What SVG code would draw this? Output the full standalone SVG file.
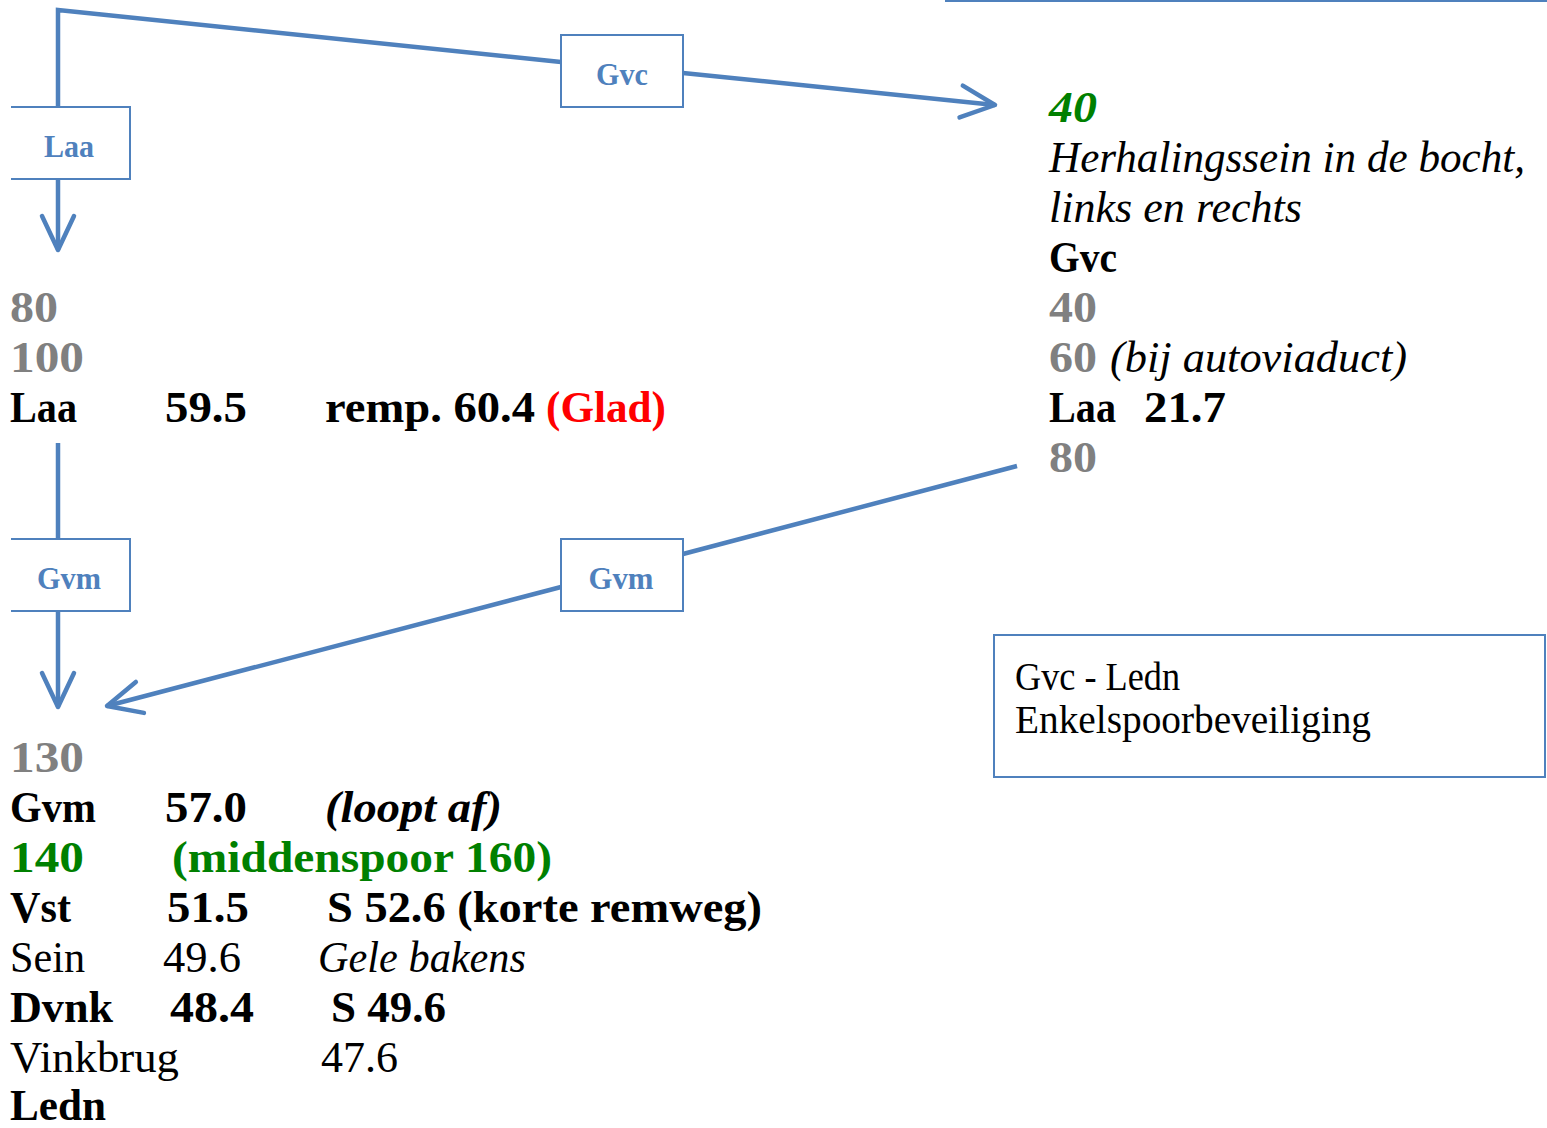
<svg xmlns="http://www.w3.org/2000/svg" width="1547" height="1128" viewBox="0 0 1547 1128">
<style>
text{font-family:"Liberation Serif","Times New Roman",serif;}
.t{font-size:44px;font-weight:bold;fill:#000;}
.r{font-size:44px;font-weight:normal;fill:#000;}
.i{font-style:italic;}
.g{fill:#808080;}
.gr{fill:#008000;}
.red{fill:#FF0000;}
.box{fill:#fff;stroke:#4F81BD;stroke-width:2;}
.bl{font-size:32px;font-weight:bold;fill:#4F81BD;text-anchor:middle;}
.c{fill:none;stroke:#4F81BD;stroke-width:4.5;}
</style>
<defs>
<marker id="ah" markerUnits="userSpaceOnUse" markerWidth="80" markerHeight="80" refX="0" refY="0" orient="auto" overflow="visible" viewBox="-40 -40 80 80">
<path d="M-34,-16 L0,0 L-34,16" fill="none" stroke="#4F81BD" stroke-width="4.5" stroke-linecap="round" stroke-linejoin="round"/>
</marker>
</defs>
<rect width="1547" height="1128" fill="#fff"/>
<line x1="945" y1="1" x2="1547" y2="1" stroke="#4F81BD" stroke-width="2"/>
<g id="connectors">
<polyline class="c" points="58,107 58,10 561,62"/>
<line class="c" x1="683" y1="73" x2="995" y2="105" marker-end="url(#ah)"/>
<line class="c" x1="58" y1="179" x2="58" y2="250" marker-end="url(#ah)"/>
<line class="c" x1="58" y1="443" x2="58" y2="539" stroke-width="3"/>
<line class="c" x1="58" y1="611" x2="58" y2="707" stroke-width="3" marker-end="url(#ah)"/>
<line class="c" x1="1017" y1="466" x2="683" y2="554"/>
<line class="c" x1="561" y1="587" x2="107" y2="706" marker-end="url(#ah)"/>
</g>
<g id="node-laa">
<path class="box" d="M11,107 H130 V179 H11"/>
<text class="bl" x="69" y="157" textLength="50" lengthAdjust="spacingAndGlyphs">Laa</text>
</g>
<g id="node-gvc">
<rect class="box" x="561" y="35" width="122" height="72"/>
<text class="bl" x="622" y="85" textLength="52" lengthAdjust="spacingAndGlyphs">Gvc</text>
</g>
<g id="node-gvm-left">
<path class="box" d="M11,539 H130 V611 H11"/>
<text class="bl" x="69" y="589" textLength="64" lengthAdjust="spacingAndGlyphs">Gvm</text>
</g>
<g id="node-gvm-right">
<rect class="box" x="561" y="539" width="122" height="72"/>
<text class="bl" x="621" y="589" textLength="65" lengthAdjust="spacingAndGlyphs">Gvm</text>
</g>
<g id="legend">
<rect class="box" x="994" y="635" width="551" height="142"/>
<text class="r" style="font-size:40px" x="1015" y="690" textLength="165" lengthAdjust="spacingAndGlyphs">Gvc - Ledn</text>
<text class="r" style="font-size:40px" x="1015" y="733" textLength="356" lengthAdjust="spacingAndGlyphs">Enkelspoorbeveiliging</text>
</g>
<g id="text-left-top">
<text class="t g" x="10" y="322" textLength="48" lengthAdjust="spacingAndGlyphs">80</text>
<text class="t g" x="10" y="372" textLength="74" lengthAdjust="spacingAndGlyphs">100</text>
<text class="t" x="10" y="422" textLength="67" lengthAdjust="spacingAndGlyphs">Laa</text>
<text class="t" x="165" y="422" textLength="82" lengthAdjust="spacingAndGlyphs">59.5</text>
<text class="t" x="325" y="422" textLength="210" lengthAdjust="spacingAndGlyphs">remp. 60.4</text>
<text class="t red" x="546" y="422" textLength="120" lengthAdjust="spacingAndGlyphs">(Glad)</text>
</g>
<g id="text-right">
<text class="t gr i" x="1049" y="122" textLength="48" lengthAdjust="spacingAndGlyphs">40</text>
<text class="r i" x="1049" y="172" textLength="476" lengthAdjust="spacingAndGlyphs">Herhalingssein in de bocht,</text>
<text class="r i" x="1049" y="222" textLength="253" lengthAdjust="spacingAndGlyphs">links en rechts</text>
<text class="t" x="1049" y="272" textLength="68" lengthAdjust="spacingAndGlyphs">Gvc</text>
<text class="t g" x="1049" y="322" textLength="48" lengthAdjust="spacingAndGlyphs">40</text>
<text class="t g" x="1049" y="372" textLength="48" lengthAdjust="spacingAndGlyphs">60</text>
<text class="r i" x="1110" y="372" textLength="297" lengthAdjust="spacingAndGlyphs">(bij autoviaduct)</text>
<text class="t" x="1049" y="422" textLength="67" lengthAdjust="spacingAndGlyphs">Laa</text>
<text class="t" x="1144" y="422" textLength="82" lengthAdjust="spacingAndGlyphs">21.7</text>
<text class="t g" x="1049" y="472" textLength="48" lengthAdjust="spacingAndGlyphs">80</text>
</g>
<g id="text-left-bottom">
<text class="t g" x="10" y="772" textLength="74" lengthAdjust="spacingAndGlyphs">130</text>
<text class="t" x="10" y="822" textLength="86" lengthAdjust="spacingAndGlyphs">Gvm</text>
<text class="t" x="165" y="822" textLength="82" lengthAdjust="spacingAndGlyphs">57.0</text>
<text class="t i" x="325" y="822" textLength="177" lengthAdjust="spacingAndGlyphs">(loopt af)</text>
<text class="t gr" x="10" y="872" textLength="74" lengthAdjust="spacingAndGlyphs">140</text>
<text class="t gr" x="172" y="872" textLength="380" lengthAdjust="spacingAndGlyphs">(middenspoor 160)</text>
<text class="t" x="10" y="922" textLength="61" lengthAdjust="spacingAndGlyphs">Vst</text>
<text class="t" x="167" y="922" textLength="82" lengthAdjust="spacingAndGlyphs">51.5</text>
<text class="t" x="327" y="922" textLength="435" lengthAdjust="spacingAndGlyphs">S 52.6 (korte remweg)</text>
<text class="r" x="10" y="972" textLength="75" lengthAdjust="spacingAndGlyphs">Sein</text>
<text class="r" x="163" y="972" textLength="78" lengthAdjust="spacingAndGlyphs">49.6</text>
<text class="r i" x="318" y="972" textLength="208" lengthAdjust="spacingAndGlyphs">Gele bakens</text>
<text class="t" x="10" y="1022" textLength="103" lengthAdjust="spacingAndGlyphs">Dvnk</text>
<text class="t" x="170" y="1022" textLength="84" lengthAdjust="spacingAndGlyphs">48.4</text>
<text class="t" x="331" y="1022" textLength="115" lengthAdjust="spacingAndGlyphs">S 49.6</text>
<text class="r" x="10" y="1072" textLength="169" lengthAdjust="spacingAndGlyphs">Vinkbrug</text>
<text class="r" x="321" y="1072" textLength="77" lengthAdjust="spacingAndGlyphs">47.6</text>
<text class="t" x="10" y="1120" textLength="96" lengthAdjust="spacingAndGlyphs">Ledn</text>
</g>
</svg>
